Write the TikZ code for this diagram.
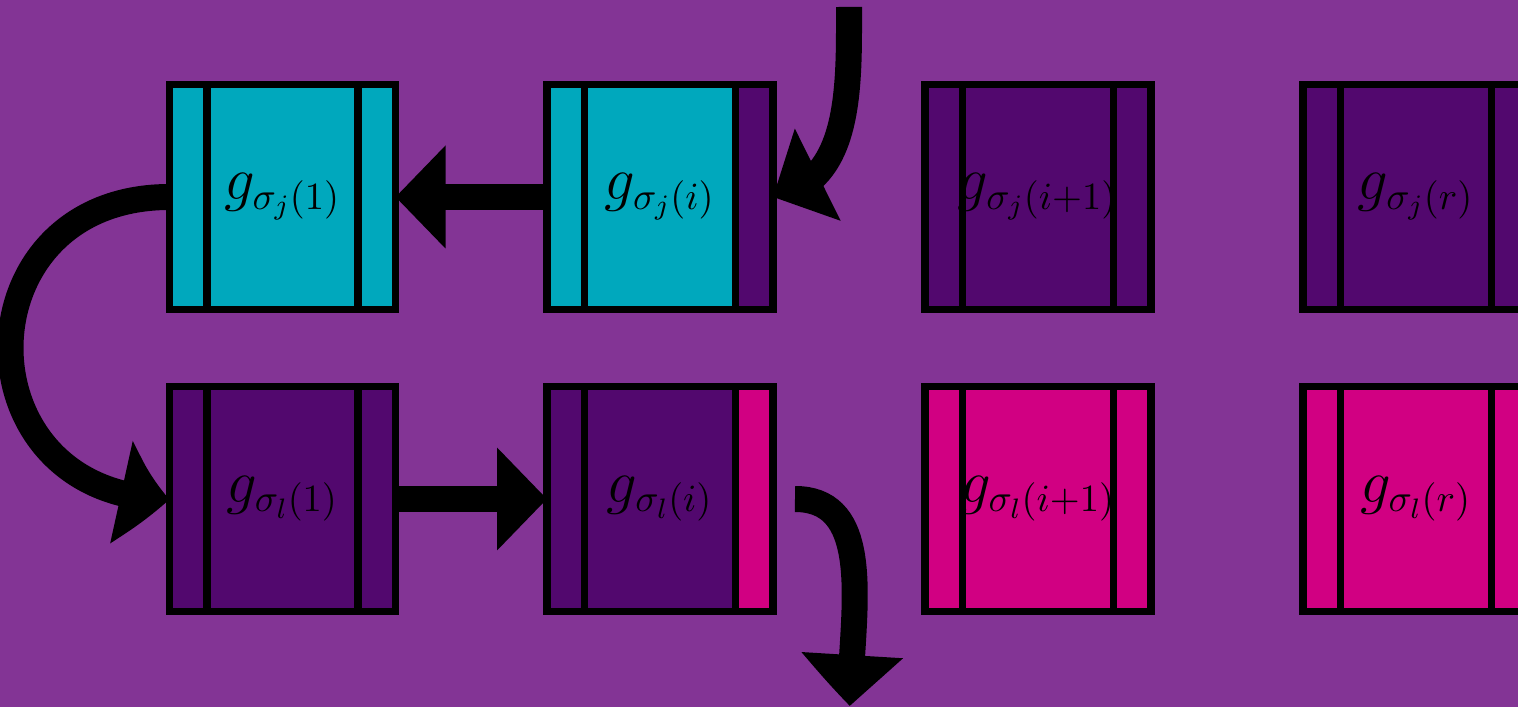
\documentclass[tikz,border=0pt]{standalone}
\usepackage{amsmath,amssymb}
\usepackage{tikz}
\usetikzlibrary{arrows.meta,bending}

\definecolor{bgpurple}{RGB}{131,52,149}
\definecolor{cellcyan}{RGB}{0,168,189}
\definecolor{celldark}{RGB}{82,8,110}
\definecolor{cellpink}{RGB}{209,0,130}

\tikzset{
  cell/.style={draw, line width=2pt, minimum width=2.26cm, minimum height=2.25cm, outer sep=0pt, inner sep=0pt},
  bigarrow/.style={line width=0.26cm, -{Triangle[length=0.5cm, width=1cm, bend]}},
  flexarrow/.style={line width=0.26cm, -{Triangle[length=0.5cm, width=1cm, flex]}},
}
\newcommand{\stripw}{0.375cm}
% cell: name, position, left strip, middle, right strip, label
\newcommand{\gcell}[6]{%
  \node[cell, fill=#4] (#1) at (#2) {};
  \fill[#3] (#1.north west) rectangle ([xshift=\stripw]#1.south west);
  \fill[#5] ([xshift=-\stripw]#1.north east) rectangle (#1.south east);
  \draw[line width=2pt] (#1.north west) rectangle (#1.south east);
  \draw[line width=2pt] ([xshift=\stripw]#1.north west) -- ([xshift=\stripw]#1.south west);
  \draw[line width=2pt] ([xshift=-\stripw]#1.north east) -- ([xshift=-\stripw]#1.south east);
  \node[font=\fontsize{16}{19}\selectfont] (#1-text) at (#1) {#6};
}

\begin{document}
\begin{tikzpicture}
        \useasboundingbox (0,0) rectangle (15.18,7.07);
        \clip (0,0) rectangle (15.18,7.07);
        \fill[bgpurple] (0,0) rectangle (15.18,7.07);

        % top row
        \gcell{gj1}{2.825,5.10}{cellcyan}{cellcyan}{cellcyan}{$g_{\sigma_j(1)}$}
        \gcell{gji}{6.60,5.10}{cellcyan}{cellcyan}{celldark}{$g_{\sigma_j(i)}$}
        \gcell{gjip}{10.38,5.10}{celldark}{celldark}{celldark}{$g_{\sigma_j(i+1)}$}
        \gcell{gjr}{14.16,5.10}{celldark}{celldark}{celldark}{$g_{\sigma_j(r)}$}

        % bottom row
        \gcell{gl1}{2.825,2.08}{celldark}{celldark}{celldark}{$g_{\sigma_l(1)}$}
        \gcell{gli}{6.60,2.08}{celldark}{celldark}{cellpink}{$g_{\sigma_l(i)}$}
        \gcell{glip}{10.38,2.08}{cellpink}{cellpink}{cellpink}{$g_{\sigma_l(i+1)}$}
        \gcell{glr}{14.16,2.08}{cellpink}{cellpink}{cellpink}{$g_{\sigma_l(r)}$}

        % arrows
        \coordinate (entry) at (8.49,7.00);
        \coordinate (exit) at (8.50,0.01);
        \draw[flexarrow] (entry) to[out=-90, in=10] (gji.east);
        \draw[bigarrow] (gji.west) -- (gj1.east);
        \draw[bigarrow] (gj1.west) to[out=180, in=180, looseness=1.8] (gl1.west);
        \draw[bigarrow] (gl1.east) -- (gli.west);
        \draw[bigarrow] ([xshift=0.22cm]gli.east) to[out=0, in=90] (exit);
\end{tikzpicture}
\end{document}
